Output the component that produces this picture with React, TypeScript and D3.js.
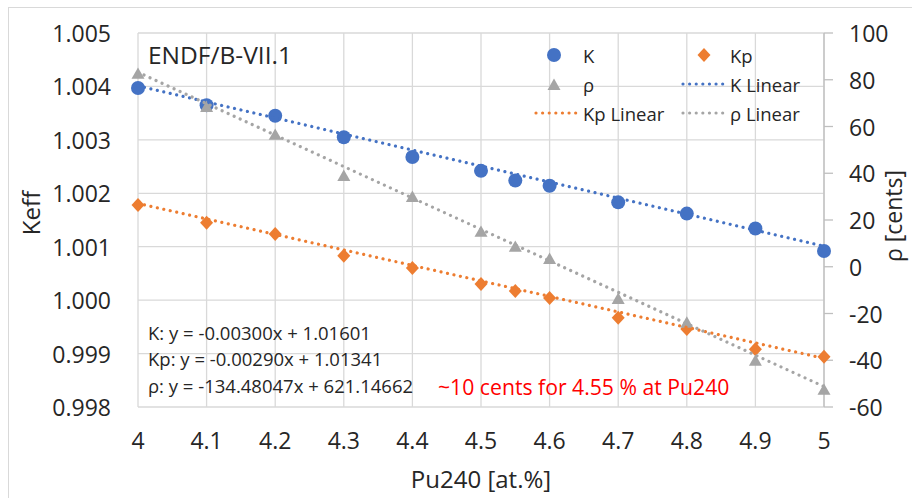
import React from "react";
import * as d3 from "d3";

// Pu240 content [at.%]
const pu240 = [4, 4.1, 4.2, 4.3, 4.4, 4.5, 4.55, 4.6, 4.7, 4.8, 4.9, 5];
// Keff values (left axis)
const kVals = [1.00397, 1.00365, 1.00345, 1.00305, 1.00268, 1.00242, 1.00224, 1.00214, 1.00183, 1.00162, 1.00134, 1.00092];
const kpVals = [1.00178, 1.00145, 1.00124, 1.00083, 1.0006, 1.0003, 1.00017, 1.00004, 0.99967, 0.99946, 0.99908, 0.99894];
// reactivity in cents (right axis)
const rhoVals = [82.5, 68.3, 56.4, 38.8, 29.8, 14.9, 8.5, 3.3, -13.8, -24.0, -40.3, -52.7];

// linear trendlines, as printed on the chart
const fitSlopes = [-0.003, -0.0029, -134.48047];
const fitIntercepts = [1.01601, 1.01341, 621.14662];
const equations = [
  "K: y = -0.00300x + 1.01601",
  "Kp: y = -0.00290x + 1.01341",
  "ρ: y = -134.48047x + 621.14662",
];

const xTicks = [4, 4.1, 4.2, 4.3, 4.4, 4.5, 4.6, 4.7, 4.8, 4.9, 5];
const yLeftTicks = [0.998, 0.999, 1.0, 1.001, 1.002, 1.003, 1.004, 1.005];
const yRightTicks = [-60, -40, -20, 0, 20, 40, 60, 80, 100];

const BLUE = "#4472C4";
const ORANGE = "#ED7D31";
const GRAY = "#A5A5A5";
const GRID = "#D9D9D9";
const TXT = "#262626";
const FONT = "'Open Sans', sans-serif";

const W = 912;
const H = 498;
const left = 138;
const right = 824;
const top = 33;
const bottom = 407;

const x = d3.scaleLinear().domain([4, 5]).range([left, right]);
const yL = d3.scaleLinear().domain([0.998, 1.005]).range([bottom, top]);
const yR = d3.scaleLinear().domain([-60, 100]).range([bottom, top]);

const dotted = { strokeWidth: 3.2, strokeDasharray: "0.01 6.6", strokeLinecap: "round" as const, fill: "none" };

function Diamond({ cx, cy, s = 7 }: { cx: number; cy: number; s?: number }) {
  return <path d={`M${cx},${cy - s}L${cx + s * 0.93},${cy}L${cx},${cy + s}L${cx - s * 0.93},${cy}Z`} fill={ORANGE} />;
}

function Triangle({ cx, cy, s = 6.5 }: { cx: number; cy: number; s?: number }) {
  return <path d={`M${cx},${cy - s}L${cx + s},${cy + s * 0.75}L${cx - s},${cy + s * 0.75}Z`} fill={GRAY} />;
}

export default function App() {
  const fitLine = (i: number, scale: d3.ScaleLinear<number, number>) =>
    d3.line<number>()
      .x((d) => x(d))
      .y((d) => scale(fitSlopes[i] * d + fitIntercepts[i]))([4, 5]) as string;

  return (
    <svg width={W} height={H} style={{ position: "absolute", left: 0, top: 0, background: "#fff" }} fontFamily={FONT}>
      <rect x={8.5} y={7.5} width={W} height={H} fill="#fff" stroke={GRID} strokeWidth={1} />

      {/* gridlines */}
      {yLeftTicks.map((t) => (
        <line key={"h" + t} x1={left} x2={right} y1={yL(t)} y2={yL(t)} stroke={GRID} strokeWidth={1.3} />
      ))}
      {xTicks.map((t) => (
        <line key={"v" + t} x1={x(t)} x2={x(t)} y1={top} y2={bottom} stroke={GRID} strokeWidth={1.3} />
      ))}

      {/* right axis */}
      <line x1={right} x2={right} y1={top} y2={bottom} stroke="#BFBFBF" strokeWidth={1.3} />
      {yRightTicks.map((t) => (
        <line key={"rt" + t} x1={right} x2={right + 9} y1={yR(t)} y2={yR(t)} stroke="#BFBFBF" strokeWidth={1.3} />
      ))}

      {/* tick labels */}
      {yLeftTicks.map((t) => (
        <text key={"yl" + t} x={111} y={yL(t)} textAnchor="end" dominantBaseline="central" fontSize={23} fill={TXT}>
          {d3.format(".3f")(t)}
        </text>
      ))}
      {yRightTicks.map((t) => (
        <text key={"yr" + t} x={849} y={yR(t)} textAnchor="start" dominantBaseline="central" fontSize={23} fill={TXT}>
          {t}
        </text>
      ))}
      {xTicks.map((t) => (
        <text key={"xl" + t} x={x(t)} y={440} textAnchor="middle" dominantBaseline="central" fontSize={23} fill={TXT}>
          {d3.format("~g")(t)}
        </text>
      ))}

      {/* axis titles */}
      <text x={481} y={478} textAnchor="middle" dominantBaseline="central" fontSize={24} fill={TXT}>Pu240 [at.%]</text>
      <text transform="translate(30,213) rotate(-90)" textAnchor="middle" dominantBaseline="central" fontSize={24} fill={TXT}>Keff</text>
      <text transform="translate(893,216) rotate(-90)" textAnchor="middle" dominantBaseline="central" fontSize={23} fill={TXT}>ρ [cents]</text>

      {/* markers */}
      {pu240.map((p, i) => (
        <circle key={"k" + i} cx={x(p)} cy={yL(kVals[i])} r={7} fill={BLUE} />
      ))}
      {pu240.map((p, i) => (
        <Diamond key={"kp" + i} cx={x(p)} cy={yL(kpVals[i])} />
      ))}
      {pu240.map((p, i) => (
        <Triangle key={"r" + i} cx={x(p)} cy={yR(rhoVals[i])} />
      ))}

      {/* trendlines */}
      <path d={fitLine(0, yL)} stroke={BLUE} {...dotted} />
      <path d={fitLine(1, yL)} stroke={ORANGE} {...dotted} />
      <path d={fitLine(2, yR)} stroke={GRAY} {...dotted} />

      {/* title */}
      <text x={148} y={54} dominantBaseline="central" fontSize={24.5} fill={TXT}>ENDF/B-VII.1</text>

      {/* legend */}
      <g fontSize={18.5} fill={TXT}>
        <circle cx={554} cy={55} r={7} fill={BLUE} />
        <text x={583} y={55} dominantBaseline="central">K</text>
        <Diamond cx={704} cy={55} />
        <text x={730} y={55} dominantBaseline="central">Kp</text>

        <Triangle cx={554} cy={85} />
        <text x={583} y={84} dominantBaseline="central">ρ</text>
        <line x1={683} x2={724} y1={84} y2={84} stroke={BLUE} {...dotted} />
        <text x={730} y={84} dominantBaseline="central">K Linear</text>

        <line x1={536} x2={577} y1={113} y2={113} stroke={ORANGE} {...dotted} />
        <text x={583} y={113} dominantBaseline="central">Kp Linear</text>
        <line x1={683} x2={724} y1={113} y2={113} stroke={GRAY} {...dotted} />
        <text x={730} y={113} dominantBaseline="central">ρ Linear</text>
      </g>

      {/* trendline equations */}
      {equations.map((e, i) => (
        <text key={"eq" + i} x={148} y={332 + i * 26.5} dominantBaseline="central" fontSize={18.5} fill={TXT}>
          {e}
        </text>
      ))}

      <text x={438} y={386} dominantBaseline="central" fontSize={21.2} fill="#FF0000">
        ~10 cents for 4.55 % at Pu240
      </text>
    </svg>
  );
}
